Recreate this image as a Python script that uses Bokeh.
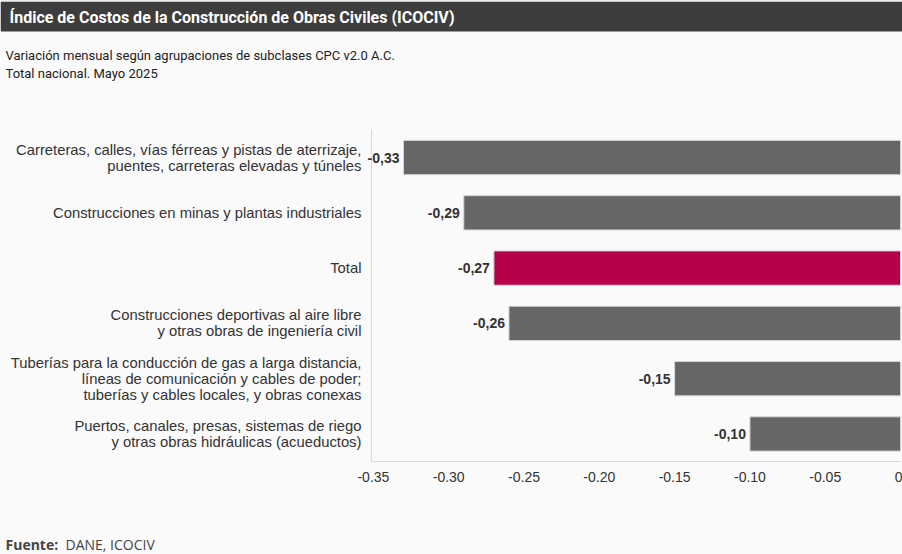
from bokeh.plotting import figure
from bokeh.models import (ColumnDataSource, Range1d, LabelSet, Label, LinearAxis,
                          BoxAnnotation, FixedTicker)
from bokeh.core.properties import value
from bokeh.embed import file_html
from bokeh.resources import INLINE

# ---- data ----
categories = [
    "Carreteras, calles, vías férreas y pistas de aterrizaje,\npuentes, carreteras elevadas y túneles",
    "Construcciones en minas y plantas industriales",
    "Total",
    "Construcciones deportivas al aire libre\ny otras obras de ingeniería civil",
    "Tuberías para la conducción de gas a larga distancia,\nlíneas de comunicación y cables de poder;\ntuberías y cables locales, y obras conexas",
    "Puertos, canales, presas, sistemas de riego\ny otras obras hidráulicas (acueductos)",
]
values = [-0.33, -0.29, -0.27, -0.26, -0.15, -0.10]
highlight = ["no", "no", "yes", "no", "no", "no"]
tick_values = [-0.35, -0.30, -0.25, -0.20, -0.15, -0.10, -0.05, 0.0]
tick_labels = ["-0.35", "-0.30", "-0.25", "-0.20", "-0.15", "-0.10", "-0.05", "0"]

title_text = "Índice de Costos de la Construcción de Obras Civiles (ICOCIV)"
subtitle_1 = "Variación mensual según agrupaciones de subclases CPC v2.0 A.C."
subtitle_2 = "Total nacional. Mayo 2025"
source_bold = "Fuente:"
source_rest = "DANE, ICOCIV"

# ---- view / styles ----
W, H = 902, 554
BG = "#fafafa"
GRAY = "#666666"
RED = "#b5004b"
AXIS = "#d9d9d9"
TXT = "#333333"
n = len(categories)
ypos = [n - 1 - i for i in range(n)]          # first category on top
band_lo, band_hi = -0.5, n - 0.5               # category band edges
axis_x = -0.3513                               # position of the value-axis origin line
x_view = (-0.5976, 0.0013)
y_view = (-2.18, 7.84)

colors = [RED if h == "yes" else GRAY for h in highlight]
value_text = [("%.2f" % v).replace(".", ",") for v in values]

src = ColumnDataSource(dict(y=ypos, val=values, color=colors, txt=value_text))

p = figure(width=W, height=H, output_backend="svg", toolbar_location=None,
           x_range=Range1d(*x_view), y_range=Range1d(*y_view),
           x_axis_type=None, y_axis_type=None,
           min_border=0, min_border_left=0, min_border_right=0,
           min_border_top=0, min_border_bottom=0)
p.background_fill_color = BG
p.border_fill_color = BG
p.outline_line_color = None
p.grid.visible = False

p.hbar(y="y", left=0, right="val", height=0.62, fill_color="color",
       line_color="#d4d4d4", line_width=1, source=src)

p.add_layout(LabelSet(x="val", y="y", text="txt", source=src, x_offset=-4,
                      text_align="right", text_baseline="middle",
                      text_font=value("Liberation Sans"), text_font_style="bold",
                      text_font_size="14px", text_color=TXT))

# value axis (bottom)
xa = LinearAxis(ticker=FixedTicker(ticks=tick_values), fixed_location=band_lo,
                bounds=(axis_x, 0.0))
xa.major_label_overrides = {t: l for t, l in zip(tick_values, tick_labels)}
xa.axis_line_color = AXIS
xa.major_tick_line_color = None
xa.minor_tick_line_color = None
xa.major_tick_out = 0
xa.major_tick_in = 0
xa.major_label_standoff = 10
xa.major_label_text_font = "Liberation Sans"
xa.major_label_text_font_size = "14px"
xa.major_label_text_color = TXT
p.add_layout(xa, "below")

# category axis (left)
ya = LinearAxis(ticker=FixedTicker(ticks=ypos), fixed_location=axis_x,
                bounds=(band_lo, band_hi))
ya.major_label_overrides = {y: c for y, c in zip(ypos, categories)}
ya.axis_line_color = AXIS
ya.major_tick_line_color = None
ya.minor_tick_line_color = None
ya.major_tick_out = 0
ya.major_tick_in = 0
ya.major_label_standoff = 10
ya.major_label_text_font = "Liberation Sans"
ya.major_label_text_font_size = "14.8px"
ya.major_label_text_line_height = 1.0
ya.major_label_text_color = TXT
p.add_layout(ya, "left")

# header bar and texts
p.add_layout(BoxAnnotation(top=0, bottom=1.5, top_units="canvas", bottom_units="canvas",
                           fill_color="#c4c4c4", fill_alpha=1.0, line_color=None))
p.add_layout(BoxAnnotation(top=1.5, bottom=31, top_units="canvas", bottom_units="canvas",
                           fill_color="#3d3d3d", fill_alpha=1.0, line_color=None))
p.add_layout(Label(x=9, y=17, x_units="canvas", y_units="canvas", text=title_text,
                   text_font="Roboto", text_font_style="bold",
                   text_font_size="16px", text_color="white",
                   text_baseline="middle", text_align="left"))
p.add_layout(Label(x=5, y=55, x_units="canvas", y_units="canvas", text=subtitle_1,
                   text_font="Roboto", text_font_size="13px",
                   text_color="#222222", text_baseline="middle"))
p.add_layout(Label(x=5, y=73, x_units="canvas", y_units="canvas", text=subtitle_2,
                   text_font="Roboto", text_font_size="13px",
                   text_color="#222222", text_baseline="middle"))
p.add_layout(Label(x=5, y=544, x_units="canvas", y_units="canvas", text=source_bold,
                   text_font="Open Sans", text_font_style="bold", text_font_size="14px",
                   text_color="#444444", text_baseline="middle"))
p.add_layout(Label(x=65, y=544, x_units="canvas", y_units="canvas", text=source_rest,
                   text_font="Open Sans", text_font_size="14px",
                   text_color="#444444", text_baseline="middle"))

open("out.html", "w").write(file_html(p, INLINE))
